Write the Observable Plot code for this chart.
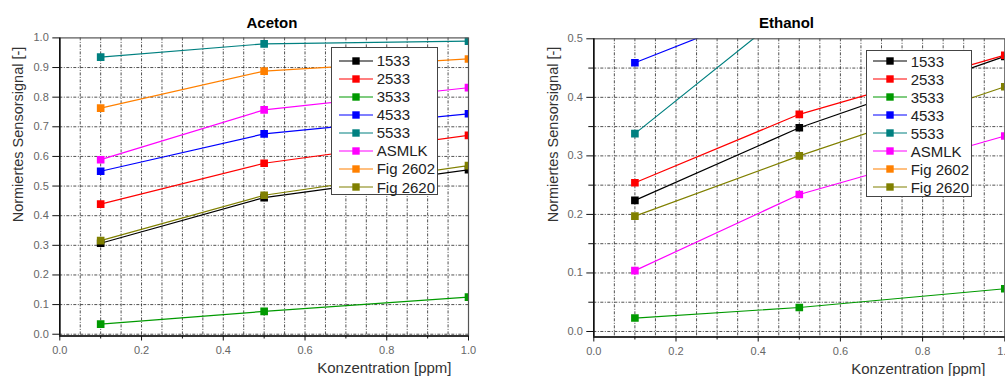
<!DOCTYPE html>
<html>
<head>
<meta charset="utf-8">
<script src="https://cdn.jsdelivr.net/npm/d3@7"></script>
<script src="https://cdn.jsdelivr.net/npm/@observablehq/plot@0.6"></script>
<style>
  body { margin: 0; background: #fff; }
  #chart { position: relative; width: 1005px; height: 376px; overflow: hidden; font-family: "Liberation Sans", Arial, sans-serif; }
  .panel { position: absolute; top: 0; }
  .legend { position: absolute; box-sizing: border-box; background: #fff; border: 1px solid #444; font-size: 15px; color: #222; }
  .legend .row { display: flex; align-items: center; height: 18.05px; white-space: nowrap; }
  .legend svg { display: block; margin-right: 3.7px; flex: none; }
</style>
</head>
<body>
<div id="chart"></div>
<script>
// Concentrations measured (ppm)
const concentrations = [0.1, 0.5, 1.0];

// Sensors and their colours
const seriesNames = ["1533", "2533", "3533", "4533", "5533", "ASMLK", "Fig 2602", "Fig 2620"];
const seriesColors = ["#000000", "#ff0000", "#009a00", "#0000ff", "#008080", "#ff00ff", "#ff8000", "#808000"];

// Normalised sensor signal for acetone, one row per sensor (0.1, 0.5, 1.0 ppm)
const acetonValues = [
  [0.307, 0.461, 0.555],
  [0.439, 0.577, 0.671],
  [0.034, 0.077, 0.125],
  [0.550, 0.676, 0.744],
  [0.935, 0.980, 0.989],
  [0.589, 0.757, 0.832],
  [0.763, 0.888, 0.929],
  [0.316, 0.469, 0.569]
];

// Normalised sensor signal for ethanol (values above 0.5 run off the top of the axis)
const ethanolValues = [
  [0.224, 0.348, 0.470],
  [0.254, 0.371, 0.472],
  [0.023, 0.041, 0.073],
  [0.459, 0.570, 0.680],
  [0.338, 0.563, 0.720],
  [0.104, 0.234, 0.334],
  [0.560, 0.680, 0.800],
  [0.197, 0.300, 0.418]
];

// Axis ticks and grid lines
const xMajorTicks = [0, 0.2, 0.4, 0.6, 0.8, 1.0];
const xMinorTicks = [0.1, 0.3, 0.5, 0.7, 0.9];
const xGridLines = [0.05, 0.1, 0.15, 0.2, 0.25, 0.3, 0.35, 0.4, 0.45, 0.5, 0.55, 0.6, 0.65, 0.7, 0.75, 0.8, 0.85, 0.9, 0.95];
const acetonYTicks = [0, 0.1, 0.2, 0.3, 0.4, 0.5, 0.6, 0.7, 0.8, 0.9, 1.0];
const acetonYGrid = [0, 0.1, 0.2, 0.3, 0.4, 0.5, 0.6, 0.7, 0.8, 0.9];
const ethanolYTicks = [0, 0.1, 0.2, 0.3, 0.4, 0.5];
const ethanolYMinorTicks = [0.05, 0.15, 0.25, 0.35, 0.45];
const ethanolYGrid = [0, 0.05, 0.1, 0.15, 0.2, 0.25, 0.3, 0.35, 0.4, 0.45];

const yLabel = "Normiertes Sensorsignal [-]";
const xLabel = "Konzentration [ppm]";
const fontFamily = '"Liberation Sans", Arial, sans-serif';

function panel(o) {
  const rows = seriesNames.flatMap((s, i) =>
    concentrations.map((c, j) => ({series: s, conc: c, value: o.values[i][j]})));
  const grid = {stroke: "#333", strokeWidth: 1, strokeOpacity: 0.85, strokeDasharray: "3,1.5,1,1.5"};
  const fmt = d3.format(".1f");
  return Plot.plot({
    width: o.width, height: 376,
    marginLeft: o.marginLeft, marginRight: o.marginRight,
    marginTop: o.marginTop, marginBottom: o.marginBottom,
    style: {fontFamily, background: "transparent"},
    x: {domain: [0, 1]},
    y: {domain: o.yDomain},
    color: {domain: seriesNames, range: seriesColors},
    marks: [
      Plot.gridX(xGridLines, grid),
      Plot.gridY(o.yGrid, grid),
      Plot.line(rows, {x: "conc", y: "value", z: "series", stroke: "series", strokeWidth: 1.2, clip: true}),
      Plot.dot(rows, {x: "conc", y: "value", fill: "series", symbol: "square", r: 4.3, clip: true}),
      Plot.frame({stroke: "#555", strokeWidth: 1.2}),
      Plot.ruleX([0], {stroke: "#111", strokeWidth: 1.6}),
      Plot.ruleY([o.yDomain[0]], {stroke: "#111", strokeWidth: 1.6}),
      Plot.axisX(xMajorTicks, {tickSize: 5, tickPadding: 5, tickFormat: fmt, fontSize: 11, fill: "#666", stroke: "#111", label: null}),
      Plot.axisX(xMinorTicks, {tickSize: 3, tickFormat: () => "", stroke: "#111", label: null}),
      Plot.axisY(o.yTicks, {tickSize: 7, tickPadding: 4, tickFormat: fmt, fontSize: 11, fill: "#666", stroke: "#111", label: null}),
      o.yMinor ? Plot.axisY(o.yMinor, {tickSize: 5, tickFormat: () => "", stroke: "#111", label: null}) : null,
      Plot.text([o.title], {frameAnchor: "top", lineAnchor: "middle", textAnchor: "middle",
        dx: o.titleDx, dy: o.titleDy, fontSize: 15, fontWeight: "bold", fill: "#000"}),
      Plot.text([yLabel], {frameAnchor: "top-left", rotate: -90, lineAnchor: "middle", textAnchor: "middle",
        dx: o.yLabelDx, dy: o.yLabelDy, fontSize: 14.5, fill: "#333"}),
      Plot.text([xLabel], {frameAnchor: "bottom-right", lineAnchor: "middle", textAnchor: "end",
        dx: o.xLabelDx, dy: o.xLabelDy, fontSize: 15, fill: "#333"})
    ]
  });
}

function legend(box) {
  const el = document.createElement("div");
  el.className = "legend";
  Object.assign(el.style, {
    left: box.left + "px", top: box.top + "px", width: box.width + "px", height: box.height + "px",
    paddingTop: box.padTop + "px", paddingLeft: box.padLeft + "px"
  });
  seriesNames.forEach((name, i) => {
    const row = document.createElement("div");
    row.className = "row";
    const sw = d3.create("svg").attr("width", 34).attr("height", 10);
    sw.append("line").attr("x1", 0).attr("x2", 34).attr("y1", 5).attr("y2", 5)
      .attr("stroke", seriesColors[i]).attr("stroke-width", 1.2);
    sw.append("rect").attr("x", 13.3).attr("y", 1.3).attr("width", 7.4).attr("height", 7.4)
      .attr("fill", seriesColors[i]);
    row.appendChild(sw.node());
    const label = document.createElement("span");
    label.textContent = name;
    row.appendChild(label);
    el.appendChild(row);
  });
  return el;
}

const chart = document.getElementById("chart");

const left = panel({
  title: "Aceton", values: acetonValues, yDomain: [-0.006, 1.0],
  yTicks: acetonYTicks, yGrid: acetonYGrid, yMinor: null,
  width: 502, marginLeft: 59.3, marginRight: 34, marginTop: 37.4, marginBottom: 40.5,
  titleDx: 7.8, titleDy: -14.4, yLabelDx: -41.3, yLabelDy: 96.6, xLabelDx: -17, xLabelDy: 32.5
});
left.classList.add("panel");
left.style.left = "0px";
chart.appendChild(left);

const right = panel({
  title: "Ethanol", values: ethanolValues, yDomain: [-0.0094, 0.5],
  yTicks: ethanolYTicks, yGrid: ethanolYGrid, yMinor: ethanolYMinorTicks,
  width: 470, marginLeft: 58.3, marginRight: 0.7, marginTop: 38.3, marginBottom: 39.5,
  titleDx: -12.8, titleDy: -15.3, yLabelDx: -40.3, yLabelDy: 95.7, xLabelDx: -19.3, xLabelDy: 31.8
});
right.classList.add("panel");
right.style.left = "535px";
chart.appendChild(right);

chart.appendChild(legend({left: 330.7, top: 46.7, width: 107.6, height: 148.5, padTop: 4, padLeft: 7.3}));
chart.appendChild(legend({left: 865.7, top: 50, width: 106.6, height: 147, padTop: 1, padLeft: 6.3}));
</script>
</body>
</html>
